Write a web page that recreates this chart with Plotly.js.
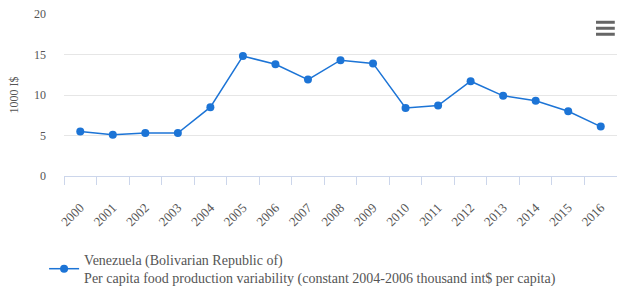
<!DOCTYPE html>
<html>
<head>
<meta charset="utf-8">
<script src="https://cdn.plot.ly/plotly-3.0.1.min.js"></script>
<style>html,body{margin:0;padding:0;background:#fff;}#chart{width:617px;height:286px;}</style>
</head>
<body>
<div id="chart"></div>
<script>
const years = ["2000","2001","2002","2003","2004","2005","2006","2007","2008","2009","2010","2011","2012","2013","2014","2015","2016"];
const values = [5.5,5.1,5.3,5.3,8.5,14.8,13.8,11.9,14.3,13.9,8.4,8.7,11.7,9.9,9.3,8.0,6.1];
const seriesName = "Venezuela (Bolivarian Republic of)<br>Per capita food production variability (constant 2004-2006 thousand int$ per capita)";
const yTitle = "1000 I$";
const yTicks = [0,5,10,15,20];

const font = "Liberation Serif, Times New Roman, serif";
const trace = {
  x: years, y: values, type: "scatter", mode: "lines+markers",
  name: seriesName,
  line: {color: "#1c74d6", width: 1.5},
  marker: {color: "#1c74d6", size: 8}
};
const layout = {
  width: 617, height: 286,
  margin: {l: 64, r: 0, t: 14, b: 109.5, pad: 0, autoexpand: false},
  paper_bgcolor: "#fff", plot_bgcolor: "#fff",
  showlegend: true,
  legend: {x: -0.036, xanchor: "left", yref: "container", y: 1 - 244/286, yanchor: "top",
           font: {family: font, size: 14, color: "#555"}, bgcolor: "rgba(0,0,0,0)", itemwidth: 30},
  xaxis: {
    type: "category", range: [-0.5, 16.5], tickson: "boundaries", automargin: false,
    ticks: "outside", ticklen: 8, tickcolor: "#ccd6eb", showline: true, linecolor: "#ccd6eb",
    showgrid: false, tickangle: -45, ticklabelstandoff: 18,
    tickfont: {family: font, size: 13, color: "#555"}, fixedrange: true
  },
  yaxis: {
    range: [0, 20], tickvals: yTicks, gridcolor: "#e6e6e6", zeroline: false, showline: false, automargin: false,
    tickfont: {family: font, size: 12, color: "#555"}, ticks: "", ticklabelstandoff: 17,
    title: {text: yTitle, font: {family: font, size: 12, color: "#555"}, standoff: 12}
  },
  shapes: [
    {type: "line", xref: "paper", yref: "paper", x0: 0.962, x1: 0.996, y0: 0.949, y1: 0.949, line: {color: "#666", width: 3}},
    {type: "line", xref: "paper", yref: "paper", x0: 0.962, x1: 0.996, y0: 0.912, y1: 0.912, line: {color: "#666", width: 3}},
    {type: "line", xref: "paper", yref: "paper", x0: 0.962, x1: 0.996, y0: 0.875, y1: 0.875, line: {color: "#666", width: 3}}
  ]
};
Plotly.newPlot("chart", [trace], layout, {displayModeBar: false, staticPlot: true});
</script>
</body>
</html>
